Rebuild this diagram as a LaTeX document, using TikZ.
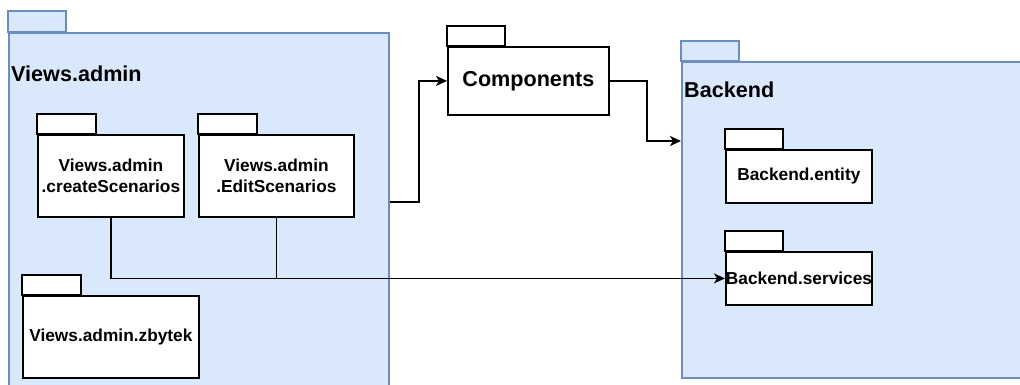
\documentclass[tikz,border=0pt]{standalone}
\usepackage{fontspec}
\setmainfont{Liberation Sans}
\usetikzlibrary{arrows.meta}
\definecolor{pkgfill}{HTML}{DAE8FC}
\definecolor{pkgline}{HTML}{6C8EBF}

\tikzset{
  body/.style={rectangle, draw=black, fill=white, line width=1.8pt, inner sep=0pt,
    anchor=north west, align=center, font=\bfseries\fontsize{17.3}{21.5}\selectfont},
  bigbody/.style={body, font=\bfseries\fontsize{21.6}{26}\selectfont},
  outer/.style={body, draw=pkgline, fill=pkgfill, line width=1.6pt},
  tab/.style={draw=black, fill=white, line width=1.8pt},
  outertab/.style={draw=pkgline, fill=pkgfill, line width=1.6pt},
  title/.style={anchor=west, inner sep=0pt, font=\bfseries\fontsize{21.6}{26}\selectfont},
  link/.style={draw=black, line width=1.8pt},
  arr/.style={link, -{Stealth[length=11pt,width=10pt,inset=3pt]}},
}

\begin{document}
\begin{tikzpicture}[x=1pt, y=-1pt]
\path[use as bounding box, clip] (0,0) rectangle (1020,385);
\fill[white] (0,0) rectangle (1020,385);

% outer package: Views.admin
\node[outer, minimum width=380pt, minimum height=360pt] (views) at (8,32) {};
\draw[outertab] (views.north west) rectangle ++(58,-21);
\node[title] (viewsT) at (11,74) {Views.admin};

% outer package: Backend
\node[outer, minimum width=345pt, minimum height=316pt] (backend) at (681,61) {};
\draw[outertab] (backend.north west) rectangle ++(58,-20);
\node[title] (backendT) at (684,90) {Backend};

% packages inside Views.admin
\node[body, minimum width=146pt, minimum height=82pt] (cs) at (37,134) {Views.admin\\.createScenarios};
\draw[tab] (cs.north west) rectangle ++(59,-20);
\node[body, minimum width=155pt, minimum height=82pt] (edit) at (198,134) {Views.admin\\.EditScenarios};
\draw[tab] (edit.north west) rectangle ++(59,-20);
\node[body, minimum width=176pt, minimum height=82pt] (zb) at (22,295) {Views.admin.zbytek};
\draw[tab] (zb.north west) rectangle ++(59,-20);

% Components package
\node[bigbody, minimum width=161pt, minimum height=68pt] (comp) at (447,46) {Components};
\draw[tab] (comp.north west) rectangle ++(58,-20);

% packages inside Backend
\node[body, minimum width=146pt, minimum height=53pt] (ent) at (725,149) {Backend.entity};
\draw[tab] (ent.north west) rectangle ++(58,-20);
\node[body, minimum width=146pt, minimum height=53pt] (svc) at (725,251) {Backend.services};
\draw[tab] (svc.north west) rectangle ++(58,-20);

% dependencies
\draw[arr] ([yshift=-170pt]views.north east) -- ++(29,0) |- (comp.west);
\draw[arr] (comp.east) -- ++(37,0) |- ([yshift=-80pt]backend.north west);
\draw[arr] (cs.south) |- (svc.west);
\draw[link] (edit.south) -- (edit.south |- svc.west);
\end{tikzpicture}
\end{document}
